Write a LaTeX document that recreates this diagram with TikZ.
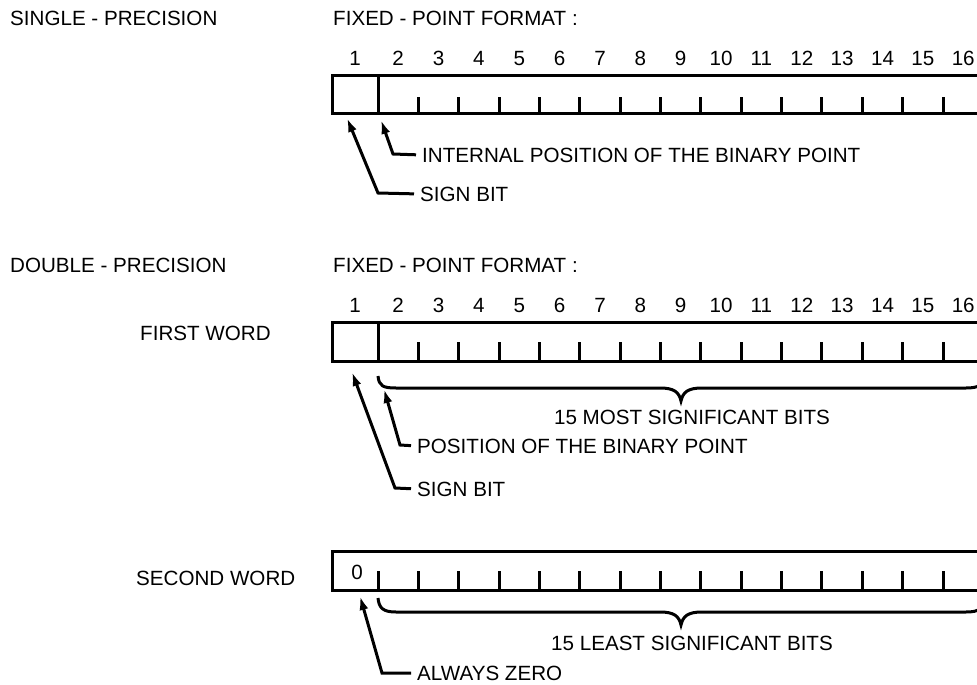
\documentclass[tikz,border=0pt]{standalone}
\usepackage{fontspec}
\setmainfont{Liberation Sans}
\usetikzlibrary{arrows.meta}
\begin{document}
\begin{tikzpicture}[x=1pt,y=-1pt,
  txt/.style={font=\fontsize{20.6}{24}\selectfont, inner sep=0pt, text height=14.8pt, text depth=0pt},
  lbl/.style={txt, anchor=west},
  num/.style={txt},
  wordbox/.style={draw, line width=3pt},
  tickline/.style={line width=3pt},
  brace/.style={line width=3pt},
  arr/.style={-{Latex[length=14pt,width=9pt]}, line width=3pt, shorten <=6pt}]
\useasboundingbox (0,0) rectangle (977,685);
\clip (0,0) rectangle (977,685);
\def\cw{40.36}
% ---------- single precision ----------
\node[lbl] (sp) at (10,18) {SINGLE - PRECISION};
\node[lbl] (fp1) at (333,18) {FIXED - POINT FORMAT :};
\node[num] (n1a) at (355,58) {1};
\foreach \i in {2,...,16} \node[num] (na\i) at ({378+(\i-1.5)*\cw},58) {\i};
\draw[wordbox] (332,76) rectangle (984,113);
\draw[tickline] (378,76) -- (378,113);
\foreach \k in {1,...,14} \draw[tickline] ({378+\k*\cw},97) -- ({378+\k*\cw},113);
\coordinate (ipTip) at (381,120);
\coordinate (ipC) at (393,154);
\node[lbl] (ipT) at (422,155) {INTERNAL POSITION OF THE BINARY POINT};
\draw[arr] (ipT.west) -- (ipC) -- (ipTip);
\coordinate (sbTip) at (347,118);
\coordinate (sbC) at (378,193);
\node[lbl] (sbT) at (420,194) {SIGN BIT};
\draw[arr] (sbT.west) -- (sbC) -- (sbTip);
% ---------- double precision ----------
\node[lbl] (dp) at (10,265) {DOUBLE - PRECISION};
\node[lbl] (fp2) at (333,265) {FIXED - POINT FORMAT :};
\node[num] (n1b) at (355,305) {1};
\foreach \i in {2,...,16} \node[num] (nb\i) at ({378+(\i-1.5)*\cw},305) {\i};
\node[lbl] (fw) at (140,333) {FIRST WORD};
\draw[wordbox] (332,322) rectangle (984,361);
\draw[tickline] (378,322) -- (378,361);
\foreach \k in {1,...,14} \draw[tickline] ({378+\k*\cw},342) -- ({378+\k*\cw},361);
\draw[brace] (378,376) .. controls (379,386) and (383,388) .. (396,388) -- (660,388)
  .. controls (674,388) and (679,392) .. (681,401)
  .. controls (683,392) and (688,388) .. (702,388) -- (966,388)
  .. controls (979,388) and (983,385) .. (983,376);
\node[num] (msb) at (692,417) {15 MOST SIGNIFICANT BITS};
\coordinate (pbTip) at (384,389);
\coordinate (pbC) at (400,445);
\node[lbl] (pbT) at (417,446) {POSITION OF THE BINARY POINT};
\draw[arr] (pbT.west) -- (pbC) -- (pbTip);
\coordinate (sb2Tip) at (352,372);
\coordinate (sb2C) at (395,488);
\node[lbl] (sb2T) at (417,489) {SIGN BIT};
\draw[arr] (sb2T.west) -- (sb2C) -- (sb2Tip);
% ---------- second word ----------
\node[lbl] (sw) at (136,578) {SECOND WORD};
\draw[wordbox] (332,551) rectangle (984,590);
\node[num] (zero) at (357,572) {0};
\foreach \k in {0,...,14} \draw[tickline] ({378+\k*\cw},571) -- ({378+\k*\cw},590);
\draw[brace] (378,598) .. controls (379,608) and (383,612) .. (396,612) -- (660,612)
  .. controls (674,612) and (679,616) .. (681,625)
  .. controls (683,616) and (688,612) .. (702,612) -- (966,612)
  .. controls (979,612) and (983,609) .. (983,598);
\node[num] (lsb) at (692,643) {15 LEAST SIGNIFICANT BITS};
\coordinate (azTip) at (360,596);
\coordinate (azC) at (382,673);
\node[lbl] (azT) at (417,673) {ALWAYS ZERO};
\draw[arr] (azT.west) -- (azC) -- (azTip);
\end{tikzpicture}
\end{document}
